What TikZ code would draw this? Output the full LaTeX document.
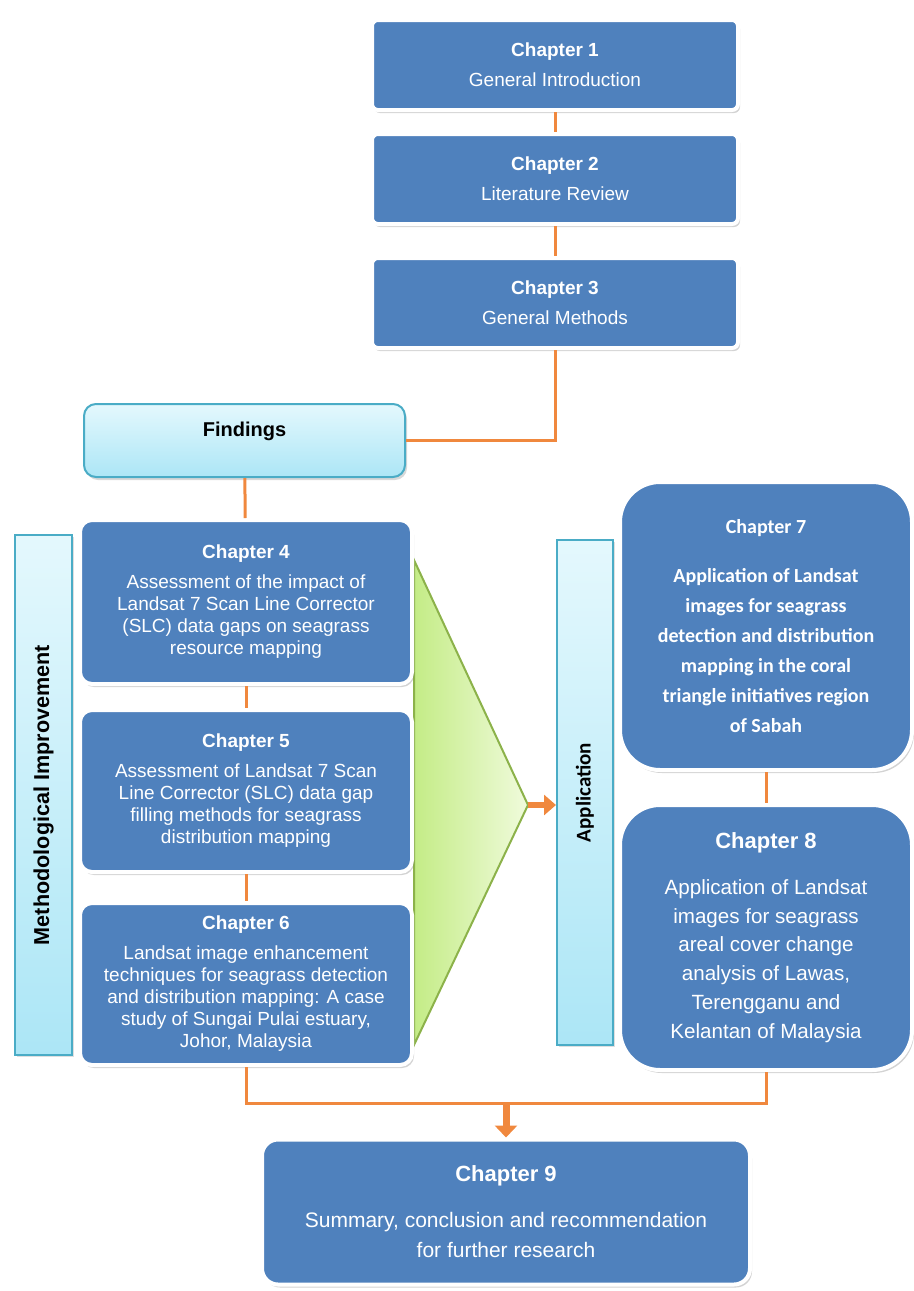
\documentclass[tikz,border=0pt]{standalone}
\usepackage{fontspec}
\setmainfont{Liberation Sans}
\newfontfamily\calfont{Carlito}
\usetikzlibrary{positioning,arrows.meta,shadows}
\definecolor{chapblue}{HTML}{4F81BD}
\definecolor{linkorange}{HTML}{F0883E}
\definecolor{barlight}{HTML}{E4F8FD}
\definecolor{barcyan}{HTML}{ACE6F6}
\definecolor{baredge}{HTML}{4AACC6}
\definecolor{trigreen}{HTML}{C4EC86}
\definecolor{trilight}{HTML}{F0FBDC}
\definecolor{triedge}{HTML}{8CB24A}
\begin{document}
\begin{tikzpicture}[x=0.5pt,y=-0.5pt,
		chap/.style={draw=white,line width=2pt,fill=chapblue,text=white,align=center,inner sep=2pt,
			drop shadow={shadow xshift=1pt,shadow yshift=-1.5pt,opacity=0.35}},
		small/.style={chap,rounded corners=3pt,minimum width=183pt,minimum height=45pt,font=\fontsize{9.5}{15}\selectfont},
		mid/.style={chap,rounded corners=6pt,minimum width=166pt,minimum height=81pt,font=\fontsize{9.5}{11}\selectfont},
		big/.style={chap,rounded corners=20pt,minimum width=146pt,font=\fontsize{10.3}{14.4}\selectfont},
		bar/.style={draw=baredge,line width=1pt,top color=barlight,bottom color=barcyan,rotate=90,
			drop shadow={shadow xshift=1pt,shadow yshift=-1pt,opacity=0.25}},
		link/.style={linkorange,line width=1.5pt},
		arr/.style={linkorange,line width=3.5pt,-{Triangle[length=6pt,width=11pt]}}]
	\useasboundingbox (0,0) rectangle (914,1291);
	\fill[left color=trigreen,right color=trilight,draw=triedge,line width=1pt]
		(414,560) -- (528,805) coordinate (apex) -- (414,1045) -- cycle;
	\node[small] (ch1) at (555,65)  {\textbf{Chapter 1}\\General Introduction};
	\node[small] (ch2) at (555,179) {\textbf{Chapter 2}\\Literature Review};
	\node[small] (ch3) at (555,303) {\textbf{Chapter 3}\\General Methods};
	\node[draw=baredge,line width=1pt,rounded corners=6pt,top color=barlight,bottom color=barcyan,
		minimum width=160.5pt,inner sep=3pt,text height=13pt,text depth=17.5pt,font=\fontsize{10}{12}\bfseries,
		drop shadow={shadow xshift=1pt,shadow yshift=-1.5pt,opacity=0.3}] (find) at (244.5,440.5) {Findings};
	\node[mid,minimum height=82pt] (ch4) at (246,602) {\textbf{Chapter 4}\\[4pt]Assessment of the impact of\\Landsat 7 Scan Line Corrector\\(SLC) data gaps on seagrass\\resource mapping};
	\node[mid] (ch5) at (246,791) {\textbf{Chapter 5}\\[4pt]Assessment of Landsat 7 Scan\\Line Corrector (SLC) data gap\\filling methods for seagrass\\distribution mapping};
	\node[mid] (ch6) at (246,984) {\textbf{Chapter 6}\\[4pt]Landsat image enhancement\\techniques for seagrass detection\\and distribution mapping: A case\\study of Sungai Pulai estuary,\\Johor, Malaysia};
	\node[bar,minimum width=260pt,minimum height=28.5pt,font=\fontsize{10.8}{12}\bfseries] (meth) at (43.5,795) {Methodological Improvement};
	\node[bar,minimum width=252.5pt,minimum height=28pt,font=\calfont\fontsize{10.5}{12}\bfseries] (app) at (585,792.5) {Application};
	\node[big,minimum height=144pt,font=\calfont\fontsize{10}{15}\bfseries] (ch7) at (766,626) {Chapter 7\\[9.5pt]Application of Landsat\\images for seagrass\\detection and distribution\\mapping in the coral\\triangle initiatives region\\of Sabah};
	\node[big,minimum height=132.5pt] (ch8) at (766,937.5) {{\fontsize{11}{14}\bfseries Chapter 8}\\[8.5pt]Application of Landsat\\images for seagrass\\areal cover change\\analysis of Lawas,\\Terengganu and\\Kelantan of Malaysia};
	\node[chap,rounded corners=8pt,minimum width=244pt,minimum height=72.5pt,font=\fontsize{10.5}{15}\selectfont] (ch9) at (506,1212) {{\fontsize{11}{14}\bfseries Chapter 9}\\[8pt]Summary, conclusion and recommendation\\for further research};
	\coordinate (join) at (506,1103);
	\draw[link] (ch1) -- (ch2);
	\draw[link] (ch2) -- (ch3);
	\draw[link] (ch3.south) |- (find.east);
	\draw[link] (find) -- (ch4);
	\draw[link] (ch4) -- (ch5);
	\draw[link] (ch5) -- (ch6);
	\draw[link] (ch7) -- (ch8);
	\draw[link] (ch6.south) |- (join) -| (ch8.south);
	\draw[arr] (join) -- (ch9);
	\draw[linkorange,line width=3pt,-{Triangle[length=6pt,width=10pt]}] (apex) -- (apex -| app.north);
\end{tikzpicture}
\end{document}
